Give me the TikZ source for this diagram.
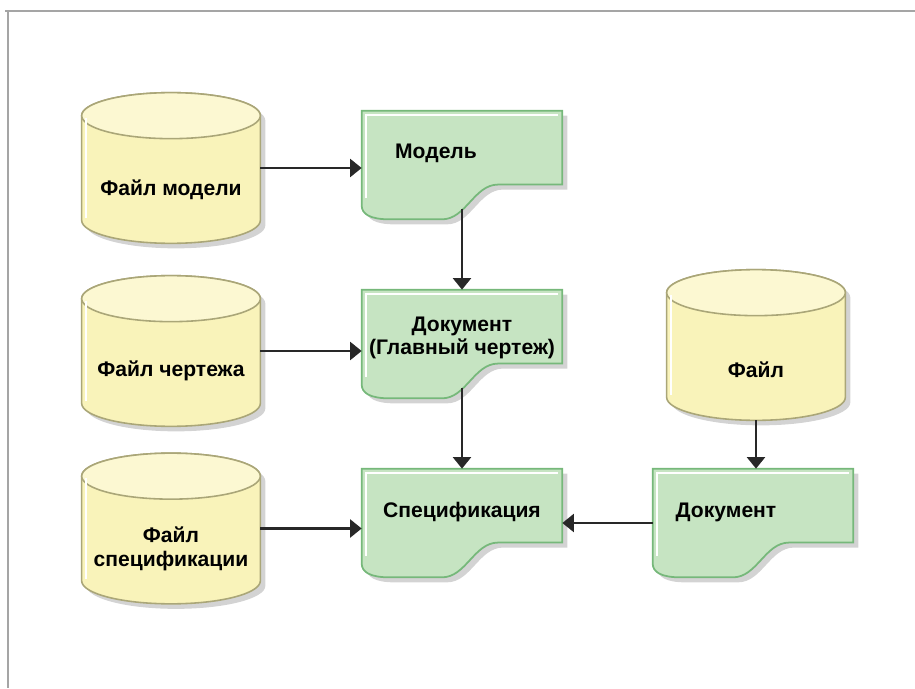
\documentclass[tikz,border=0pt]{standalone}
\usepackage{fontspec}
\setmainfont{Liberation Sans}
\usetikzlibrary{arrows.meta, positioning, calc, shadows, backgrounds}
\definecolor{filebody}{RGB}{249, 243, 186}
\definecolor{filetop}{RGB}{252, 248, 210}
\definecolor{fileedge}{RGB}{170, 166, 120}
\definecolor{docgreen}{RGB}{198, 228, 194}
\definecolor{docedge}{RGB}{118, 184, 122}
\definecolor{arrowgray}{RGB}{40, 40, 40}
\definecolor{framegray}{RGB}{165, 165, 165}
\tikzstyle{filedb} = [rectangle, minimum width=3.56cm, minimum height=3cm, inner sep=0pt]
\tikzstyle{docbox} = [rectangle, minimum width=4cm, minimum height=2.16cm, inner sep=0pt]
\tikzstyle{lbl} = [font=\bfseries\fontsize{12}{13.5}\selectfont, align=center, text=black]
\tikzstyle{cylbody} = [fill=filebody, draw=fileedge, line width=0.9pt, drop shadow={shadow xshift=0.1cm, shadow yshift=-0.1cm, fill=black!50, opacity=0.35}]
\tikzstyle{cyltop} = [fill=filetop, draw=fileedge, line width=0.9pt]
\tikzstyle{docshape} = [fill=docgreen, draw=docedge, line width=1pt, drop shadow={shadow xshift=0.1cm, shadow yshift=-0.1cm, fill=black!50, opacity=0.35}]
\tikzstyle{arrow} = [-{Triangle[length=2.3mm, width=3.6mm]}, line width=1.2pt, draw=arrowgray, fill=arrowgray]

% cylinder drawn over the box of a node
\newcommand{\drawcyl}[1]{%
  \path[cylbody] let \p1=(#1.north west), \p2=(#1.south east) in
    (\x1,{\y1-0.46cm}) -- (\x1,{\y2+0.46cm})
    arc[start angle=180, end angle=360, x radius={(\x2-\x1)/2}, y radius=0.46cm]
    -- (\x2,{\y1-0.46cm})
    arc[start angle=0, end angle=180, x radius={(\x2-\x1)/2}, y radius=0.46cm] -- cycle;
  \path[cyltop] let \p1=(#1.north west), \p2=(#1.south east) in
    ({(\x1+\x2)/2},{\y1-0.46cm}) ellipse[x radius={(\x2-\x1)/2}, y radius=0.46cm];
  \draw[white, line width=1.2pt] let \p1=(#1.north west), \p2=(#1.south east) in
    ({\x1+0.08cm},{\y1-0.5cm}) -- ({\x1+0.08cm},{\y2+0.5cm});
}
% document sheet with wavy bottom
\newcommand{\drawdoc}[1]{%
  \path[docshape] let \p1=(#1.north west), \p2=(#1.south east) in
    (\x1,\y1) -- (\x2,\y1) -- (\x2,{\y1-0.68*(\y1-\y2)})
    -- ({\x1+0.68*(\x2-\x1)},{\y1-0.68*(\y1-\y2)})
    .. controls ({\x1+0.56*(\x2-\x1)},{\y1-0.68*(\y1-\y2)}) and ({\x1+0.52*(\x2-\x1)},\y2) .. ({\x1+0.40*(\x2-\x1)},\y2)
    -- ({\x1+0.14*(\x2-\x1)},\y2)
    .. controls ({\x1+0.04*(\x2-\x1)},\y2) and (\x1,{\y2+0.05*(\y1-\y2)}) .. (\x1,{\y2+0.13*(\y1-\y2)}) -- cycle;
  \draw[white, line width=1.2pt] let \p1=(#1.north west), \p2=(#1.south east) in
    ({\x1+0.08cm},{\y2+0.2*(\y1-\y2)}) -- ({\x1+0.08cm},{\y1-0.08cm}) -- ({\x2-0.08cm},{\y1-0.08cm});
}

\begin{document}
\begin{tikzpicture}
    \useasboundingbox (0,0) rectangle (18.3,13.76);

    % Frame
    \draw[framegray, line width=1pt] (0.1,13.54) -- (18.3,13.54);
    \draw[framegray, line width=1pt] (0.16,13.54) -- (0.16,0);

    % Files
    \node[filedb, label={[lbl, yshift=-0.44cm]center:Файл модели}] (fmodel) at (3.42, 10.4) {};
    \node[filedb, label={[lbl, yshift=-0.4cm]center:Файл чертежа}] (fdraw) at (3.42, 6.74) {};
    \node[filedb, label={[lbl, yshift=-0.4cm]center:{Файл\\спецификации}}] (fspec) at (3.42, 3.19) {};
    \node[filedb, label={[lbl, yshift=-0.5cm]center:Файл}] (ffile) at (15.12, 6.86) {};

    % Documents
    \node[docbox, label={[lbl, xshift=-0.52cm, yshift=0.24cm]center:Модель}] (model) at (9.24, 10.46) {};
    \node[docbox, label={[lbl, yshift=0.12cm]center:{Документ\\(Главный чертеж)}}] (mdraw) at (9.24, 6.88) {};
    \node[docbox, label={[lbl, yshift=0.22cm]center:Спецификация}] (spec) at (9.24, 3.3) {};
    \node[docbox, label={[lbl, xshift=-0.54cm, yshift=0.22cm]center:Документ}] (doc) at (15.06, 3.3) {};

    % Shapes behind the texts
    \begin{scope}[on background layer]
        \drawcyl{fmodel}
        \drawcyl{fdraw}
        \drawcyl{fspec}
        \drawcyl{ffile}
        \drawdoc{model}
        \drawdoc{mdraw}
        \drawdoc{spec}
        \drawdoc{doc}
    \end{scope}

    % Arrows
    \draw[arrow] (fmodel.east) -- (fmodel.east -| model.west);
    \draw[arrow] (fdraw.east) -- (fdraw.east -| mdraw.west);
    \draw[arrow] (fspec.east) -- (fspec.east -| spec.west);
    \draw[arrow] ([yshift=0.2cm]model.south) -- (mdraw.north);
    \draw[arrow] ([yshift=0.2cm]mdraw.south) -- (spec.north);
    \draw[arrow] (ffile.south) -- (ffile.south |- doc.north);
    \draw[arrow] (doc.west) -- (spec.east);
\end{tikzpicture}
\end{document}
